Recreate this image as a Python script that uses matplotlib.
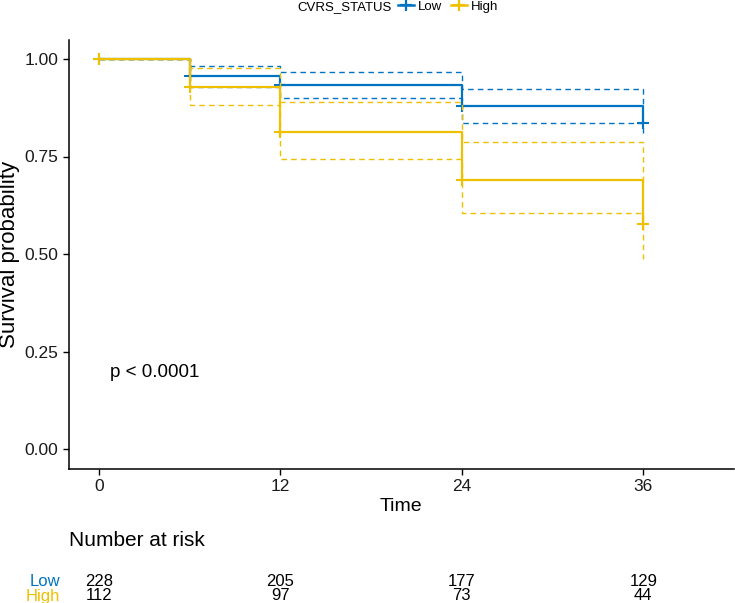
import numpy as np
import matplotlib
matplotlib.use("Agg")
import matplotlib.pyplot as plt
from matplotlib.lines import Line2D
from matplotlib.transforms import blended_transform_factory

plt.rcParams["font.family"] = ["Liberation Sans", "DejaVu Sans"]

# data
time = [0, 6, 12, 24, 36]
low_surv = [1.0, 0.957, 0.933, 0.879, 0.836]
low_upper = [1.0, 0.983, 0.967, 0.922, 0.885]
low_lower = [1.0, 0.929, 0.899, 0.836, 0.800]
high_surv = [1.0, 0.928, 0.813, 0.691, 0.578]
high_upper = [1.0, 0.977, 0.891, 0.788, 0.680]
high_lower = [1.0, 0.881, 0.743, 0.604, 0.487]

risk_times = [0, 12, 24, 36]
low_risk = [228, 205, 177, 129]
high_risk = [112, 97, 73, 44]

groups = ["Low", "High"]
colors = {"Low": "#0073C2", "High": "#EFC000"}
curves = {
    "Low": (low_surv, low_upper, low_lower),
    "High": (high_surv, high_upper, high_lower),
}

W, H = 735, 603
fig = plt.figure(figsize=(W / 100, H / 100), dpi=100)
left, right, top, bottom = 68.6, 734, 39.5, 468.5
ax = fig.add_axes([left / W, 1 - bottom / H, (right - left) / W, (bottom - top) / H])

for g in groups:
    s, up, lo = curves[g]
    c = colors[g]
    ax.step(time, up, where="post", color=c, lw=1.0, ls=(0, (4, 3)))
    ax.step(time, lo, where="post", color=c, lw=1.0, ls=(0, (4, 3)))
    ax.step(time, s, where="post", color=c, lw=1.6)
    ax.plot(time, s, ls="none", marker="+", ms=9, mew=1.5, color=c)

ax.set_xlim(-2, 42)
ax.set_ylim(-0.05, 1.05)
ax.set_xticks([0, 12, 24, 36])
ax.set_yticks([0, 0.25, 0.5, 0.75, 1.0])
ax.set_yticklabels(["0.00", "0.25", "0.50", "0.75", "1.00"])
ax.tick_params(labelsize=12.5, length=4, width=1, color="black", labelcolor="#1a1a1a")
for sp in ["top", "right"]:
    ax.spines[sp].set_visible(False)
for sp in ["left", "bottom"]:
    ax.spines[sp].set_linewidth(1.1)
ax.set_xlabel("Time", fontsize=14, labelpad=3)
ax.set_ylabel("Survival probability", fontsize=16, labelpad=3)

ax.text(0.75, 0.195, "p < 0.0001", fontsize=13.5, ha="left", va="center")

# legend at the top
fig.text(297 / W, 1 - 7 / H, "CVRS_STATUS", fontsize=9.5, ha="left", va="center")
handles = [Line2D([], [], color=colors[g], lw=1.8, marker="+", ms=9, mew=1.6) for g in groups]
fig.legend(handles, groups, loc="center left", bbox_to_anchor=(398 / W, 1 - 7 / H),
           ncol=2, frameon=False, fontsize=9.5, handlelength=1.2, handletextpad=0.3,
           columnspacing=0.7, borderpad=0, borderaxespad=0)

# risk table
tr = blended_transform_factory(ax.transData, fig.transFigure)
fig.text(left / W, 1 - 540 / H, "Number at risk", fontsize=15, ha="left", va="center")
rows = [("Low", low_risk, 582), ("High", high_risk, 596)]
for name, vals, yp in rows:
    fig.text(60 / W, 1 - yp / H, name, fontsize=12, ha="right", va="center", color=colors[name])
    for t, v in zip(risk_times, vals):
        ax.text(t, 1 - yp / H, str(v), transform=tr, fontsize=12, ha="center", va="center")

fig.savefig("out.png", dpi=100)
